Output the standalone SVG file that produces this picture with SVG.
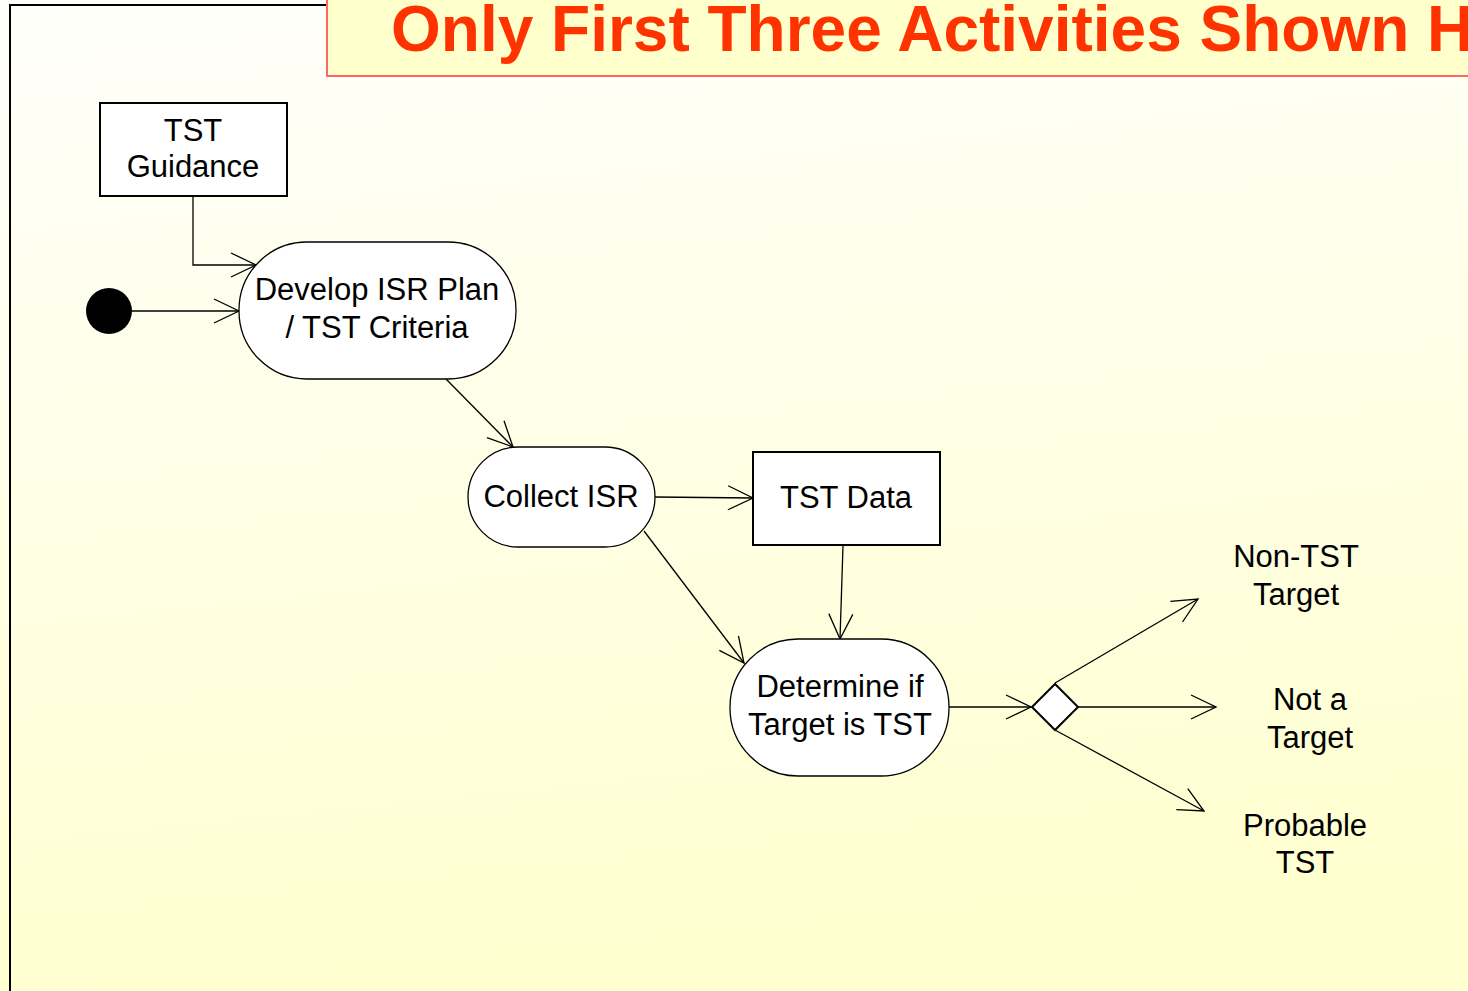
<svg xmlns="http://www.w3.org/2000/svg" width="1468" height="991" viewBox="0 0 1468 991">
<defs>
<linearGradient id="bg" x1="0" y1="0" x2="0.15" y2="1">
<stop offset="0" stop-color="#FFFFFB"/>
<stop offset="0.5" stop-color="#FFFFE6"/>
<stop offset="1" stop-color="#FFFFD0"/>
</linearGradient>
<marker id="arr" markerUnits="userSpaceOnUse" markerWidth="30" markerHeight="30" viewBox="-28 -15 30 30" refX="0" refY="0" orient="auto">
<path d="M-25,-12 L0,0 L-25,12" fill="none" stroke="#000" stroke-width="1.3"/>
</marker>
<style>
.t{font-family:"Liberation Sans",Arial,sans-serif;font-size:31px;fill:#000;text-anchor:middle}
.box{fill:#fff;stroke:#000;stroke-width:2}
.act{fill:#fff;stroke:#000;stroke-width:1.3}
.c{fill:none;stroke:#000;stroke-width:1.3;marker-end:url(#arr)}
</style>
</defs>
<rect x="0" y="0" width="1468" height="991" fill="url(#bg)"/>
<path d="M10,991 L10,5 L330,5" fill="none" stroke="#000" stroke-width="2"/>
<g id="title">
<rect x="327" y="-5" width="1150" height="81" fill="#FFFFCC" stroke="#FF6666" stroke-width="2"/>
<text x="391" y="51" style="font-family:'Liberation Sans',Arial,sans-serif;font-size:64px;font-weight:bold;fill:#FF3300">Only First Three Activities Shown H</text>
</g>
<g id="connectors">
<path class="c" d="M193,196 L193,265 L256,265"/>
<path class="c" d="M132,311 L239,311"/>
<path class="c" d="M446,379 L513,447"/>
<path class="c" d="M655,497 L753,498"/>
<path class="c" d="M644,531 L744,663"/>
<path class="c" d="M843,546 L840,639"/>
<path class="c" d="M949,707 L1031,707"/>
<path class="c" d="M1055,683 L1198,599"/>
<path class="c" d="M1078,707 L1216,707"/>
<path class="c" d="M1055,730 L1204,811"/>
</g>
<g id="start">
<circle cx="109" cy="311" r="23" fill="#000"/>
</g>
<g id="tst-guidance">
<rect class="box" x="100" y="103" width="187" height="93"/>
<text class="t" x="193" y="141">TST</text>
<text class="t" x="193" y="177">Guidance</text>
</g>
<g id="develop">
<rect class="act" x="239" y="242" width="277" height="137" rx="68" ry="68"/>
<text class="t" x="377" y="300">Develop ISR Plan</text>
<text class="t" x="377" y="338">/ TST Criteria</text>
</g>
<g id="collect">
<rect class="act" x="468" y="447" width="187" height="100" rx="50" ry="50"/>
<text class="t" x="561" y="507">Collect ISR</text>
</g>
<g id="tst-data">
<rect class="box" x="753" y="452" width="187" height="93"/>
<text class="t" x="846" y="508">TST Data</text>
</g>
<g id="determine">
<rect class="act" x="730" y="639" width="219" height="137" rx="68" ry="68"/>
<text class="t" x="840" y="697">Determine if</text>
<text class="t" x="840" y="735">Target is TST</text>
</g>
<g id="decision">
<path d="M1032,707 L1055,684 L1078,707 L1055,730 Z" fill="#fff" stroke="#000" stroke-width="2"/>
</g>
<g id="non-tst">
<text class="t" x="1296" y="567">Non-TST</text>
<text class="t" x="1296" y="605">Target</text>
</g>
<g id="not-target">
<text class="t" x="1310" y="710">Not a</text>
<text class="t" x="1310" y="748">Target</text>
</g>
<g id="probable">
<text class="t" x="1305" y="836">Probable</text>
<text class="t" x="1305" y="873">TST</text>
</g>
</svg>
